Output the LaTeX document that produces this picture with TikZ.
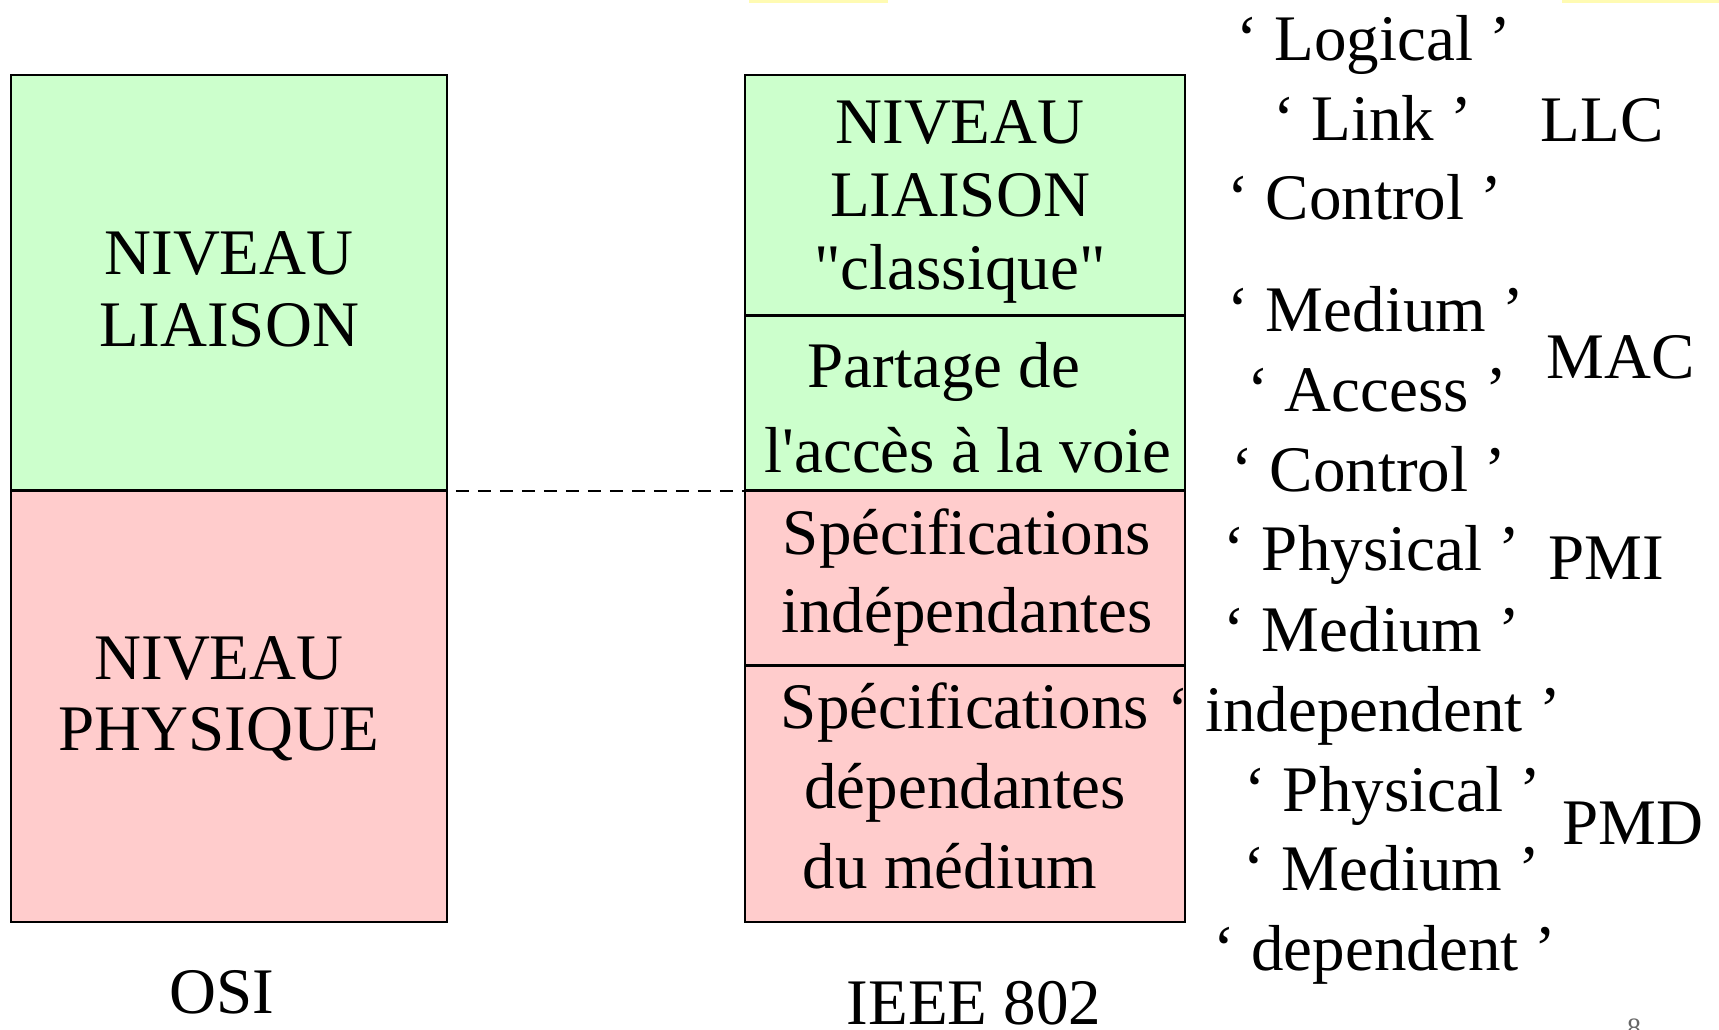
\documentclass[tikz,border=0pt]{standalone}
\usepackage{fontspec}
\setmainfont{Liberation Serif}
\usepackage{tikz}

\begin{document}
\begin{tikzpicture}[x=0.5pt, y=-0.5pt,
        every node/.style={font=\fontsize{32.5}{39}\selectfont},
        osibox/.style={rectangle, draw, line width=0.9pt, inner sep=0pt, minimum width=218pt},
        ieeebox/.style={rectangle, draw, line width=0.9pt, inner sep=0pt, minimum width=220pt},
        boxtext/.style={inner sep=0pt, align=center},
        liaison/.style={fill=green!20},
        physique/.style={fill=red!20},
        divider/.style={line width=1.5pt},
        word/.style={anchor=base, inner sep=0pt}]
            \useasboundingbox (0,0) rectangle (1719,1029);
            \fill[yellow!30] (749,0) rectangle (888,3);
            \fill[yellow!30] (1562,0) rectangle (1719,3);

            % Nodes
            \node[osibox, liaison, minimum height=207.5pt] (osiL) at (229,282.5) {};
            \node[osibox, physique, minimum height=216pt] (osiP) at (229,706) {};
            \node[ieeebox, liaison, minimum height=120pt] (llcbox) at (965,195) {};
            \node[ieeebox, liaison, minimum height=87.5pt] (macbox) at (965,402.5) {};
            \node[ieeebox, physique, minimum height=87.5pt] (pmibox) at (965,577.5) {};
            \node[ieeebox, physique, minimum height=128.5pt] (pmdbox) at (965,793.5) {};

            \node[boxtext, font=\fontsize{32.5}{36}\selectfont] (osiLtext) at (229,289.5) {NIVEAU\\LIAISON};
            \node[boxtext, font=\fontsize{32.5}{35.5}\selectfont] (osiPtext) at (219,699) {NIVEAU\\PHYSIQUE};
            \node[boxtext, font=\fontsize{32.5}{36.5}\selectfont] (llctext) at (960,202) {NIVEAU\\LIAISON\\\textquotedbl classique\textquotedbl};
            \node[boxtext, font=\fontsize{32.5}{42.5}\selectfont] (mactext) at (968,408) {Partage de\hspace*{24pt}\\l\textquotesingle accès à la voie};
            \node[boxtext, font=\fontsize{32.5}{39}\selectfont] (pmitext) at (967,577.5) {Spécifications\\indépendantes};
            \node[boxtext, font=\fontsize{32.5}{40}\selectfont] (pmdtext) at (965,785.5) {Spécifications\\dépendantes\\du médium\hspace*{15pt}};

            \node[word] (osi) at (222,1013) {OSI};
            \node[word] (ieee) at (974,1024) {IEEE 802};

            \node[word] (w1) at (1374,60) {‘ Logical ’};
            \node[word] (w2) at (1373,140) {‘ Link ’};
            \node[word] (w3) at (1365,219) {‘ Control ’};
            \node[word] (w4) at (1376,331) {‘ Medium ’};
            \node[word] (w5) at (1377,411) {‘ Access ’};
            \node[word] (w6) at (1369,491) {‘ Control ’};
            \node[word] (w7) at (1372,570) {‘ Physical ’};
            \node[word] (w8) at (1372,651) {‘ Medium ’};
            \node[word] (w9) at (1364,731) {‘ independent ’};
            \node[word] (w10) at (1393,811) {‘ Physical ’};
            \node[word] (w11) at (1392,890) {‘ Medium ’};
            \node[word] (w12) at (1385,970) {‘ dependent ’};

            \node[word] (llc) at (1602,141) {LLC};
            \node[word] (mac) at (1621,378) {MAC};
            \node[word] (pmi) at (1606,579) {PMI};
            \node[word] (pmd) at (1633,844) {PMD};
            \node[word, text=black!60, font=\fontsize{14}{16}\selectfont] (page) at (1634,1037) {8};

            % Edges
            \draw[divider] (osiL.south west) -- (osiL.south east);
            \draw[divider] (llcbox.south west) -- (llcbox.south east);
            \draw[divider] (macbox.south west) -- (macbox.south east);
            \draw[divider] (pmibox.south west) -- (pmibox.south east);
            \draw[line width=1.3pt, dash pattern=on 6.5pt off 4.5pt, shorten <=4pt] (osiL.south east) -- (macbox.south west);
        \end{tikzpicture}
\end{document}
